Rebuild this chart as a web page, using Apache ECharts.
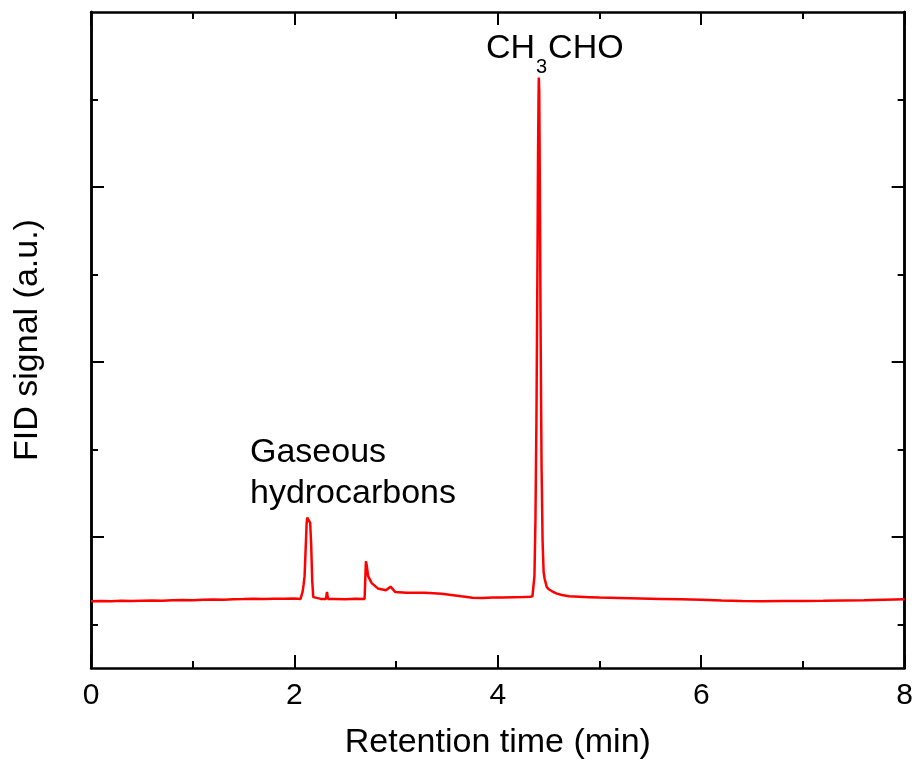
<!DOCTYPE html>
<html><head><meta charset="utf-8">
<script src="https://cdn.jsdelivr.net/npm/echarts@6/dist/echarts.min.js"></script>
<style>html,body{margin:0;padding:0;background:#fff}#c{width:916px;height:765px}</style>
</head><body><div id="c"></div>
<script>
// Retention time (min)
const time = [
  0.00,0.10,0.20,0.30,0.40,0.50,0.60,0.70,0.80,0.90,1.00,1.10,1.20,1.30,1.40,1.50,1.60,1.70,1.80,1.90,2.00,2.06,
  2.07,2.08,2.09,2.10,2.11,2.12,2.126,2.14,2.155,2.165,2.175,2.185,
  2.20,2.26,2.31,2.32,2.33,2.40,2.50,2.60,2.69,
  2.70,2.703,2.71,2.725,2.76,2.82,2.90,2.945,2.99,3.10,3.28,3.45,3.58,3.64,
  3.65,3.75,3.85,3.95,4.05,4.15,4.25,4.32,4.34,
  4.35,4.36,4.37,4.38,4.39,4.395,4.40,4.403,4.407,4.41,4.415,4.42,4.425,4.43,4.44,4.45,
  4.46,4.48,4.50,4.53,4.58,4.63,4.70,4.80,4.90,5.00,5.20,5.40,5.60,5.80,6.00,6.20,6.40,6.60,6.80,7.00,7.20,7.40,7.60,7.80,8.00
];
// FID signal (a.u.)
const signal = [
  0.262,0.265,0.262,0.268,0.266,0.270,0.272,0.270,0.275,0.278,0.276,0.280,0.283,0.281,0.286,0.288,0.292,0.290,0.293,0.291,0.294,0.290,
  0.30,0.37,0.45,0.55,0.85,1.15,1.22,1.20,1.16,0.90,0.50,0.31,
  0.292,0.290,0.288,0.37,0.29,0.290,0.287,0.292,0.288,
  0.30,0.72,0.68,0.55,0.47,0.41,0.39,0.43,0.37,0.36,0.36,0.35,0.33,0.32,
  0.30,0.302,0.300,0.305,0.306,0.310,0.312,0.315,0.320,
  0.33,0.55,1.20,2.40,4.20,5.30,6.00,6.25,6.10,5.60,4.60,3.50,2.60,1.80,0.95,0.60,
  0.52,0.43,0.40,0.38,0.35,0.335,0.32,0.315,0.31,0.305,0.30,0.295,0.29,0.285,0.28,0.272,0.265,0.262,0.265,0.266,0.268,0.272,0.275,0.28,0.285
];
const xTickLabels = [0, 2, 4, 6, 8];
const yMajorTicks = [1, 3, 5];
const yMinorTicks = [0, 2, 4, 6];
const xTitle = 'Retention time (min)';
const yTitle = 'FID signal (a.u.)';
const peakLabels = [
  { text: '{a|CH}{b|3}{a|CHO}', t: 4.56, v: 6.58 },
  { text: '{a|Gaseous}', t: 1.563, v: 1.96, left: true },
  { text: '{a|hydrocarbons}', t: 1.563, v: 1.496, left: true }
];

const FONT = "'Liberation Sans', Arial, sans-serif";
const chart = echarts.init(document.getElementById('c'), null, { renderer: 'canvas' });
const data = time.map((t, i) => [t, signal[i]]);
const axisLineStyle = { color: '#000', width: 2.5 };
const commonX = {
  type: 'value', min: 0, max: 8, interval: 2,
  axisLine: { show: true, onZero: false, lineStyle: axisLineStyle },
  axisTick: { show: true, inside: true, length: 13, lineStyle: { color: '#000', width: 2 } },
  minorTick: { show: true, splitNumber: 2, length: 7, lineStyle: { color: '#000', width: 2 } },
  splitLine: { show: false }, minorSplitLine: { show: false }
};
const commonY = {
  type: 'value', min: -0.5, max: 7,
  axisLine: { show: true, onZero: false, lineStyle: axisLineStyle },
  splitLine: { show: false },
  axisLabel: { show: false }
};
chart.setOption({
  animation: false,
  backgroundColor: '#fff',
  grid: { left: 91, right: 11, top: 12, bottom: 96, containLabel: false },
  xAxis: [
    Object.assign({}, commonX, {
      position: 'bottom',
      name: xTitle, nameLocation: 'middle', nameGap: 58,
      nameTextStyle: { fontFamily: FONT, fontSize: 34, color: '#000' },
      axisLabel: { show: true, margin: 13, fontFamily: FONT, fontSize: 30, color: '#000',
        customValues: xTickLabels }
    }),
    Object.assign({}, commonX, { position: 'top', axisLabel: { show: false } })
  ],
  yAxis: [
    Object.assign({}, commonY, {
      position: 'left',
      name: yTitle, nameLocation: 'middle', nameGap: 46,
      nameTextStyle: { fontFamily: FONT, fontSize: 34, color: '#000' },
      axisTick: { show: true, inside: true, length: 13, customValues: yMajorTicks, lineStyle: { color: '#000', width: 2 } }
    }),
    Object.assign({}, commonY, {
      position: 'left',
      axisTick: { show: true, inside: true, length: 7, customValues: yMinorTicks, lineStyle: { color: '#000', width: 2 } }
    }),
    Object.assign({}, commonY, {
      position: 'right',
      axisTick: { show: true, inside: true, length: 13, customValues: yMajorTicks, lineStyle: { color: '#000', width: 2 } }
    }),
    Object.assign({}, commonY, {
      position: 'right',
      axisTick: { show: true, inside: true, length: 7, customValues: yMinorTicks, lineStyle: { color: '#000', width: 2 } }
    })
  ],
  series: [{
    type: 'line', xAxisIndex: 0, yAxisIndex: 0,
    data: data, showSymbol: false, symbol: 'none',
    lineStyle: { color: '#ff0000', width: 2.5 },
    z: 3
  }]
});

const richStyle = {
  a: { fontFamily: FONT, fontSize: 34, color: '#000', lineHeight: 34, verticalAlign: 'top' },
  b: { fontFamily: FONT, fontSize: 20, color: '#000', lineHeight: 20, padding: [26, 1, 0, 1], verticalAlign: 'top' }
};
const graphics = peakLabels.map(p => {
  const pos = chart.convertToPixel({ xAxisIndex: 0, yAxisIndex: 0 }, [p.t, p.v]);
  return {
    type: 'text', x: pos[0], y: pos[1], z: 10,
    style: {
      text: p.text, rich: richStyle,
      align: p.left ? 'left' : 'center', verticalAlign: 'middle'
    }
  };
});
chart.setOption({ graphic: graphics });
</script>
</body></html>
